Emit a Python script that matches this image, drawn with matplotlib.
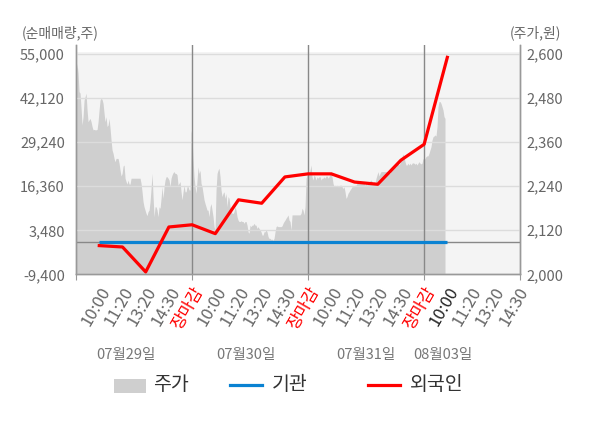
import numpy as np
import matplotlib
matplotlib.use('Agg')
import matplotlib.pyplot as plt
from matplotlib.transforms import blended_transform_factory
from matplotlib.patches import Rectangle
from matplotlib.lines import Line2D

plt.rcParams['font.family'] = ['Noto Sans CJK KR', 'DejaVu Sans']

# ---------------- data ----------------
time_labels = ['10:00', '11:20', '13:20', '14:30', '장마감',
               '10:00', '11:20', '13:20', '14:30', '장마감',
               '10:00', '11:20', '13:20', '14:30', '장마감',
               '10:00', '11:20', '13:20', '14:30']
date_labels = ['07월29일', '07월30일', '07월31일', '08월03일']

vol_ticks = [-9400, 3480, 16360, 29240, 42120, 55000]
price_ticks = [2000, 2120, 2240, 2360, 2480, 2600]

# intraday stock price (주가), minute samples
price = [
    2548, 2575, 2548, 2498, 2494, 2453, 2407, 2430, 2475, 2484,
    2494, 2448, 2416, 2421, 2425, 2416, 2403, 2394, 2395, 2394,
    2394, 2395, 2416, 2448, 2475, 2480, 2477, 2466, 2439, 2416,
    2430, 2403, 2407, 2425, 2398, 2366, 2339, 2330, 2316, 2307,
    2316, 2316, 2316, 2303, 2284, 2268, 2275, 2295, 2298, 2262,
    2253, 2246, 2257, 2246, 2246, 2262,
    2262, 2262, 2262, 2262, 2262, 2262, 2262, 2262, 2262,
    2248, 2225, 2198, 2184, 2175, 2166, 2160, 2171, 2175, 2198,
    2234, 2275, 2212, 2157, 2184, 2184, 2175, 2157, 2184, 2180,
    2207, 2239, 2207, 2239, 2257, 2266, 2266, 2262, 2257, 2239,
    2262, 2271, 2277, 2280, 2275, 2275, 2271, 2243, 2248, 2253,
    2225, 2203, 2225, 2243, 2225, 2225, 2239, 2239, 2230,
    # day 2
    2230, 2393, 2375, 2312, 2266, 2239, 2221, 2257, 2293, 2275,
    2284, 2248, 2239, 2221, 2203, 2193, 2184, 2175, 2175, 2157,
    2184, 2193, 2175, 2157, 2130, 2121, 2230, 2275, 2284, 2289,
    2266, 2230, 2212, 2221, 2225, 2207, 2221, 2184, 2212, 2207,
    2184, 2175, 2166, 2166, 2171, 2184, 2175, 2157, 2148, 2144,
    2144, 2146, 2144, 2144, 2139, 2144, 2144, 2134, 2116, 2112,
    2134, 2130, 2134, 2134, 2139, 2134, 2134, 2125, 2130, 2125,
    2121, 2116, 2107, 2107, 2116, 2116, 2121, 2116, 2103, 2098,
    2098, 2095, 2096, 2093, 2098, 2116, 2130, 2132, 2130, 2130,
    2130, 2130, 2132, 2139, 2144, 2148, 2153, 2157, 2162, 2148,
    2144, 2121, 2162, 2162, 2162, 2162, 2162, 2162, 2162, 2162,
    2162, 2166, 2180, 2175, 2162, 2184,
    # day 3 and day 4
    2262, 2271, 2275, 2271, 2284, 2298, 2266, 2257, 2271, 2266,
    2257, 2266, 2262, 2266, 2266, 2257, 2262, 2262, 2266, 2262,
    2268, 2268, 2262, 2266, 2275, 2280, 2266, 2248, 2239, 2243,
    2239, 2243, 2239, 2239, 2243, 2243, 2239, 2234, 2239, 2225,
    2207, 2212, 2221, 2225, 2230, 2234, 2239, 2239, 2239, 2243,
    2243, 2248, 2248, 2248, 2248, 2248, 2248, 2248, 2248, 2243,
    2248, 2243, 2248, 2248, 2255, 2257, 2253, 2248, 2253, 2248,
    2262, 2271, 2280, 2268, 2275, 2280, 2280, 2280, 2280, 2280,
    2280, 2280, 2280, 2275, 2275, 2289, 2293, 2292, 2295, 2298,
    2292, 2301, 2303, 2298, 2303, 2312, 2321, 2328, 2321, 2307,
    2298, 2298, 2303, 2298, 2303, 2298, 2303, 2304, 2303, 2300,
    2303, 2298, 2303, 2307, 2303, 2301, 2303, 2316, 2312, 2316,
    2321, 2323, 2323, 2330, 2339, 2348, 2366, 2375, 2377, 2380,
    2377, 2403, 2457, 2471, 2471, 2466, 2457, 2448, 2430, 2425,
]

# net buying (순매매량), one value per time slot
institution = [0, 0, 0, 0, 0, 0, 0, 0, 0, 0, 0, 0, 0, 0, 0, 0]
foreign = [-1000, -1400, -8700, 4450, 5100, 2500, 12400, 11400,
           19100, 20000, 20000, 17600, 16950, 24000, 28650, 54100]

# ---------------- figure ----------------
fig = plt.figure(figsize=(6, 4.28), dpi=100)
ax = fig.add_axes([0.1268, 0.3591, 0.7398, 0.5358])   # price axis (right)
ax2 = ax.twinx()                                       # volume axis (left)

XMAX = 19.13
ax.set_xlim(0, XMAX)
ax.set_ylim(2000, 2625.3)
ax2.set_ylim(-9400, 57717)

ax.axhspan(2000, 2607, color='#f4f4f4', lw=0, zorder=0)
px = np.linspace(0, 15.9, len(price))
ax.fill_between(px, 2000, price, color='#cfcfcf', lw=0, zorder=1)

ax.set_axisbelow(False)
ax.set_yticks(price_ticks)
ax.set_yticklabels([f'{v:,}' for v in price_ticks])
ax.yaxis.tick_right()
ax.grid(axis='y', color='#dcdcdc', lw=1)
ax.tick_params(axis='y', length=0, pad=5, labelsize=10.5, labelcolor='#666666')

ax2.set_yticks(vol_ticks)
ax2.set_yticklabels([f'{v:,}' for v in vol_ticks])
ax2.yaxis.tick_left()
ax2.tick_params(axis='y', length=0, pad=8, labelsize=10.5, labelcolor='#666666')

xs = np.arange(1, len(foreign) + 1)
ax2.axhline(0, color='#888888', lw=1, zorder=1)
for b in [5, 10, 15]:
    ax2.axvline(b, color='#888888', lw=1, zorder=1)
ax2.plot(xs, institution, color='#0a82d2', lw=2.3, zorder=3, solid_capstyle='butt')
ax2.plot(xs, foreign, color='#ff0000', lw=2.3, zorder=4)

# x ticks
ax.xaxis.remove_overlapping_locs = False
ax.set_xticks([0, 5, 10, 15, XMAX])
ax.set_xticklabels([])
ax.tick_params(axis='x', which='major', length=4, color='#999999')
ax.set_xticks(np.arange(1, len(time_labels) + 1), labels=time_labels, minor=True)
ax.tick_params(axis='x', which='minor', length=0, pad=7)
for i, lab in enumerate(ax.xaxis.get_minorticklabels()):
    lab.set_rotation(60)
    lab.set_ha('right')
    lab.set_va('top')
    lab.set_rotation_mode('anchor')
    lab.set_fontsize(12)
    txt = time_labels[i]
    if txt == '장마감':
        lab.set_color('#ff0000')
    elif i == 15:
        lab.set_color('#222222')
    else:
        lab.set_color('#666666')

for a in (ax, ax2):
    a.spines['top'].set_visible(False)
    for s in ('left', 'right', 'bottom'):
        a.spines[s].set_color('#999999')
        a.spines[s].set_linewidth(1)

# date labels
tr = blended_transform_factory(ax.transData, fig.transFigure)
date_pos = [2.15, 7.3, 12.5, 15.8]
for d, xp in zip(date_labels, date_pos):
    ax.text(xp, 0.1706, d, transform=tr, ha='center', va='center',
            fontsize=10.5, color='#777777')

# axis titles
fig.text(0.037, 0.9229, '(순매매량,주)', ha='left', va='center', fontsize=10, color='#666666')
fig.text(0.935, 0.9229, '(주가,원)', ha='right', va='center', fontsize=10, color='#666666')

# legend
fig.add_artist(Rectangle((0.19, 0.0825), 0.0528, 0.032, transform=fig.transFigure,
                         facecolor='#cfcfcf', edgecolor='none'))
fig.text(0.255, 0.1005, '주가', ha='left', va='center', fontsize=14, color='#333333')
fig.add_artist(Line2D([0.3833, 0.4362], [0.1005, 0.1005], transform=fig.transFigure,
                      color='#0a82d2', lw=2.3))
fig.text(0.4528, 0.1005, '기관', ha='left', va='center', fontsize=14, color='#333333')
fig.add_artist(Line2D([0.6133, 0.6667], [0.1005, 0.1005], transform=fig.transFigure,
                      color='#ff0000', lw=2.3))
fig.text(0.6833, 0.1005, '외국인', ha='left', va='center', fontsize=14, color='#333333')

fig.savefig('out.png', dpi=100)
